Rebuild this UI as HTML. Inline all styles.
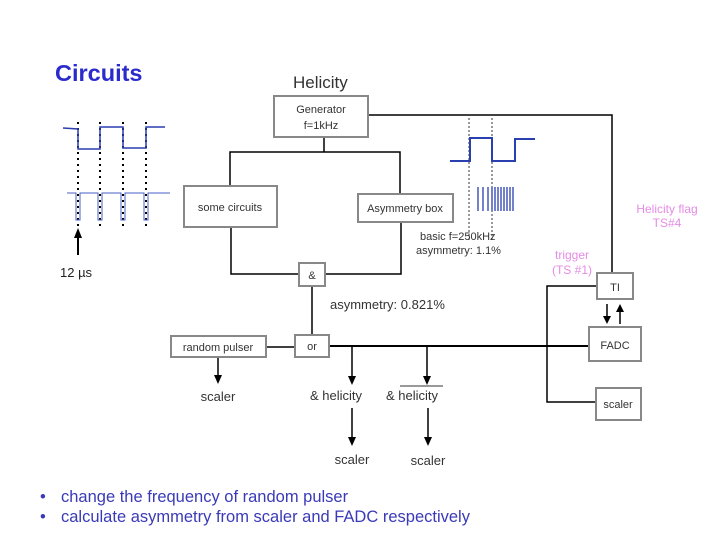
<!DOCTYPE html>
<html><head><meta charset="utf-8"><style>
body{margin:0;background:#fff}
svg{display:block}
text{font-family:"Liberation Sans",sans-serif}
</style></head><body>
<svg width="720" height="540" viewBox="0 0 720 540" xmlns="http://www.w3.org/2000/svg">
<text x="55" y="81" font-size="23.5" font-weight="bold" fill="#2b2bcc">Circuits</text>
<text x="293" y="88" font-size="17" fill="#333">Helicity</text>

<g stroke="#000" stroke-width="2" stroke-dasharray="2,4">
<line x1="78" y1="122" x2="78" y2="228"/><line x1="100" y1="122" x2="100" y2="228"/><line x1="123" y1="122" x2="123" y2="228"/><line x1="146" y1="122" x2="146" y2="228"/>
</g>
<polyline fill="none" stroke="#2a3fb0" stroke-width="1.5" points="63,128 78,129 78,149 100,149 100,127 123,127 123,148 146,148 146,127 165,127"/>
<polyline fill="none" stroke="#4a5fc8" stroke-width="1" points="67,193 76,193 76,220 80,220 80,193 98,193 98,220 102,220 102,193 121,193 121,220 125,220 125,193 144,193 144,220 148,220 148,193 170,193"/>
<line x1="78" y1="255" x2="78" y2="236" stroke="#000" stroke-width="2"/>
<path d="M74,238 L78,228 L82,238z"/>
<text x="60" y="277" font-size="13" fill="#222">12  µs</text>

<g stroke="#333" stroke-width="1" stroke-dasharray="2,2">
<line x1="469" y1="118" x2="469" y2="240"/><line x1="492" y1="118" x2="492" y2="240"/></g>
<polyline fill="none" stroke="#2a3fb0" stroke-width="2" points="450,161 470,161 470,138 492,138 492,161 515,161 515,139 535,139"/>
<g stroke="#2a3fb0" stroke-width="1.3">
<line x1="478" y1="187" x2="478" y2="211"/><line x1="483" y1="187" x2="483" y2="211"/><line x1="488" y1="187" x2="488" y2="211"/>
<line x1="492" y1="187" x2="492" y2="211"/><line x1="495" y1="187" x2="495" y2="211"/><line x1="498" y1="187" x2="498" y2="211"/><line x1="501" y1="187" x2="501" y2="211"/><line x1="504" y1="187" x2="504" y2="211"/><line x1="507" y1="187" x2="507" y2="211"/><line x1="510" y1="187" x2="510" y2="211"/><line x1="513" y1="187" x2="513" y2="211"/></g>

<g fill="none" stroke="#000" stroke-width="1.5">
<polyline points="368,115 612,115 612,273"/>
<polyline points="324,138 324,152"/>
<polyline points="230,186 230,152 400,152 400,194"/>
<polyline points="231,227 231,274 300,274"/>
<polyline points="401,222 401,274 325,274"/>
<line x1="312" y1="286" x2="312" y2="335"/>
<line x1="266" y1="347" x2="295" y2="347"/>
<line x1="329" y1="346" x2="589" y2="346" stroke-width="2"/>
<polyline points="597,286 547,286 547,402 596,402"/>
<line x1="218" y1="357" x2="218" y2="376"/>
<line x1="352" y1="346" x2="352" y2="377"/>
<line x1="427" y1="346" x2="427" y2="377"/>
<line x1="352" y1="408" x2="352" y2="438"/>
<line x1="428" y1="408" x2="428" y2="438"/>
<line x1="607" y1="304" x2="607" y2="317"/>
<line x1="620" y1="324" x2="620" y2="311"/>
</g>
<g fill="#000">
<path d="M214,375 L218,384 L222,375z"/><path d="M348,376 L352,385 L356,376z"/><path d="M423,376 L427,385 L431,376z"/>
<path d="M348,437 L352,446 L356,437z"/><path d="M424,437 L428,446 L432,437z"/>
<path d="M603,316 L607,324 L611,316z"/><path d="M616,312 L620,304 L624,312z"/>
</g>

<g fill="#fff" stroke="#888" stroke-width="2">
<rect x="274" y="96" width="94" height="41"/>
<rect x="184" y="186" width="93" height="41"/>
<rect x="358" y="194" width="95" height="28"/>
<rect x="299" y="263" width="26" height="23"/>
<rect x="171" y="336" width="95" height="21"/>
<rect x="295" y="335" width="34" height="22"/>
<rect x="597" y="273" width="36" height="26"/>
<rect x="589" y="327" width="52" height="34"/>
<rect x="596" y="388" width="45" height="32"/>
</g>
<g font-size="11" fill="#333" text-anchor="middle">
<text x="321" y="113">Generator</text><text x="321" y="129">f=1kHz</text>
<text x="230" y="211">some circuits</text>
<text x="405" y="212">Asymmetry box</text>
<text x="312" y="279">&amp;</text>
<text x="218" y="351">random pulser</text>
<text x="312" y="350">or</text>
<text x="615" y="291">TI</text>
<text x="615" y="349">FADC</text>
<text x="618" y="408">scaler</text>
</g>
<g font-size="13" fill="#333">
<text x="420" y="240" font-size="11">basic f=250kHz</text>
<text x="416" y="254" font-size="11">asymmetry: 1.1%</text>
<text x="330" y="309">asymmetry: 0.821%</text>
<text x="218" y="401" text-anchor="middle">scaler</text>
<text x="310" y="400">&amp; helicity</text>
<text x="386" y="400">&amp; helicity</text>
<line x1="400" y1="386" x2="443" y2="386" stroke="#333" stroke-width="1"/>
<text x="352" y="464" text-anchor="middle">scaler</text>
<text x="428" y="465" text-anchor="middle">scaler</text>
</g>
<g font-size="12" fill="#e58ce5" text-anchor="middle">
<text x="667" y="213">Helicity flag</text><text x="667" y="227">TS#4</text>
<text x="572" y="259">trigger</text><text x="572" y="274">(TS #1)</text>
</g>
<g font-size="16.5" fill="#3a3ab8">
<text x="40" y="502">•</text><text x="61" y="502">change the frequency of random pulser</text>
<text x="40" y="522">•</text><text x="61" y="522">calculate asymmetry from scaler and FADC respectively</text>
</g>
</svg>
</body></html>
